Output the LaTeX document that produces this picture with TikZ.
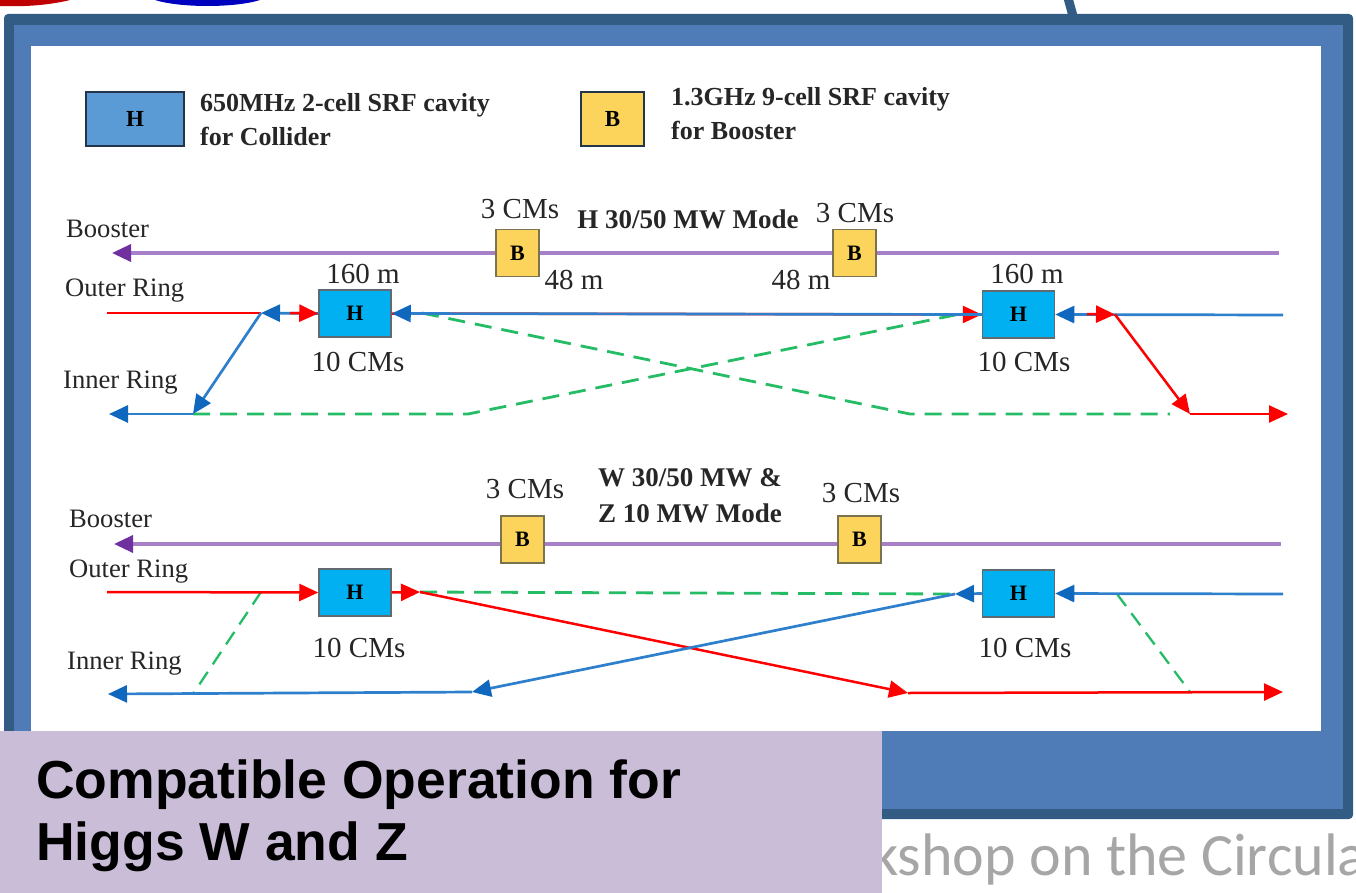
\documentclass[tikz,border=0pt]{standalone}
\usepackage{fontspec}
\setmainfont{Liberation Serif}
\newfontfamily\capfont{Liberation Sans}
\newfontfamily\footfont{Carlito}
\usetikzlibrary{arrows.meta}
\definecolor{frameD}{HTML}{335C85}
\definecolor{frameM}{HTML}{4F7CB6}
\definecolor{lav}{HTML}{CABDD8}
\definecolor{cavH}{HTML}{00B0F0}
\definecolor{cavL}{HTML}{5B9BD5}
\definecolor{cavB}{HTML}{FCD45C}
\definecolor{edgeG}{HTML}{5F6B70}
\definecolor{edgeK}{HTML}{7A7350}
\definecolor{edgeL}{HTML}{24344A}
\definecolor{purL}{HTML}{A880C8}
\definecolor{purD}{HTML}{7030A0}
\definecolor{bluL}{HTML}{2E80CC}
\definecolor{bluD}{HTML}{1068BE}
\definecolor{grn}{HTML}{25BC66}
\definecolor{txt}{HTML}{262626}
\tikzset{
  x=1pt,y=-1pt,
  lab/.style={inner sep=0pt,text=txt,font=\fontsize{26.6}{27}\selectfont,anchor=base west},
  big/.style={inner sep=0pt,text=txt,font=\fontsize{29}{29}\selectfont,anchor=base},
  bold/.style={inner sep=0pt,text=txt,font=\fontsize{26}{26}\selectfont\bfseries,anchor=base west},
  boldc/.style={inner sep=0pt,text=txt,font=\fontsize{27}{27}\selectfont\bfseries,anchor=base},
  hcav/.style={draw=edgeG,line width=1.5pt,fill=cavH,minimum width=72pt,minimum height=47pt,inner sep=0pt,font=\fontsize{22}{22}\selectfont\bfseries},
  bcav/.style={draw=edgeK,line width=1.5pt,fill=cavB,minimum width=43pt,minimum height=47pt,inner sep=0pt,font=\fontsize{22}{22}\selectfont\bfseries},
  hleg/.style={draw=edgeL,line width=2pt,fill=cavL,minimum width=98pt,minimum height=54pt,inner sep=0pt,font=\fontsize{23}{23}\selectfont\bfseries},
  bleg/.style={draw=edgeL,line width=2pt,fill=cavB,minimum width=63pt,minimum height=54pt,inner sep=0pt,font=\fontsize{23}{23}\selectfont\bfseries},
  tip/.style={-{Triangle[length=19pt,width=17pt]}},
  pur/.style={draw=purL,line width=3.4pt},
  pura/.style={pur,-{Triangle[length=19pt,width=17pt,color=purD]}},
  red2/.style={draw=red,line width=2.5pt},
  redA/.style={red2,tip,color=red},
  blu/.style={draw=bluL,line width=2.7pt},
  bluA/.style={blu,-{Triangle[length=19pt,width=17pt,color=bluD]}},
  grnd/.style={draw=grn,line width=2.8pt,dash pattern=on 17pt off 10pt},
  grns/.style={draw=grn,line width=2.3pt,dash pattern=on 15pt off 9pt},
}
\begin{document}
\begin{tikzpicture}
\useasboundingbox (0,0) rectangle (1356,893);
\clip (0,0) rectangle (1356,893);
\fill[white] (0,0) rectangle (1356,893);
% fragments at the top edge
\fill[red!75!black] (0,0) -- (70,0) .. controls (50,5) and (25,7) .. (0,6) -- cycle;
\fill[blue!75!black] (155,0) .. controls (180,8) and (235,8) .. (260,0) -- cycle;
\draw[frameD,line width=9pt] (1068,-2) -- (1073,16);
% grey footer text, running under the caption
\node[inner sep=0pt,anchor=base west,text=black!35,font=\footfont\fontsize{60}{60}\selectfont] (foot) at (871,875) {kshop on the Circula};
% frame
\fill[frameD,rounded corners=4pt] (4,14) rectangle (1353,819);
\fill[frameM] (14,25) rectangle (1343,809);
\fill[white] (31,46) rectangle (1321,731);
% legend
\node[hleg] (legH) at (135,119) {H};
\node[bleg] (legB) at (612.5,119) {B};
\node[bold] (leg1) at (200,112) {650MHz 2-cell SRF cavity};
\node[bold] (leg2) at (200,146) {for Collider};
\node[bold] (leg3) at (671,106) {1.3GHz 9-cell SRF cavity};
\node[bold] (leg4) at (671,140) {for Booster};
% upper diagram nodes
\node[bcav] (b1) at (517.5,253) {B};
\node[bcav] (b2) at (854.5,253) {B};
\node[hcav] (h1) at (355,313.5) {H};
\node[hcav] (h2) at (1018.5,314.5) {H};
\coordinate (ubE) at (1279,253);
\coordinate (ubW) at (112,253);
\coordinate (uoW) at (107,313);
\coordinate (uj1) at (261,313);
\coordinate (ur1) at (290,313);
\coordinate (uiW) at (109,414);
\coordinate (uj2) at (193,414);
\coordinate (ug1) at (468,414);
\coordinate (ug2) at (960,314);
\coordinate (ug3) at (422,313);
\coordinate (ug4) at (910,414);
\coordinate (ug5) at (1170,414);
\coordinate (uoE) at (1283,315);
\coordinate (ur2) at (1087,314);
\coordinate (uj3) at (1115,314.5);
\coordinate (uj4) at (1190,414);
\coordinate (urE) at (1288,414);
% upper connectors
\draw[pura] (b1) -- (ubW);
\draw[pur] (b1) -- (b2);
\draw[pur] (b2) -- (ubE);
\draw[grnd] (uj2) -- (ug1) -- (ug2);
\draw[grnd] (ug3) -- (ug4) -- (ug5);
\draw[red2] (uoW) -- (uj1);
\draw[bluA] (h1.west) -- (uj1);
\draw[redA] (ur1) -- (h1.west);
\draw[redA] (h1.east) -- (h2.west);
\draw[bluA] (h2.west) -- (h1.east);
\draw[bluA] (uoE) -- (h2.east);
\draw[redA] (ur2) -- (uj3);
\draw[redA] (uj3) -- (uj4);
\draw[redA] (uj4) -- (urE);
\draw[bluA] (uj1) -- (uj2);
\draw[bluA] (uj2) -- (uiW);
\node[bcav] at (b1) {B};
\node[bcav] at (b2) {B};
% upper labels
\node[lab] (t1) at (66,238) {Booster};
\node[lab] (t2) at (65,296) {Outer Ring};
\node[lab] (t3) at (63,388) {Inner Ring};
\node[big] (t4) at (520,219) {3 CMs};
\node[big] (t5) at (855,223) {3 CMs};
\node[boldc] (t6) at (688,229) {H 30/50 MW Mode};
\node[big] (t7) at (363,283) {160 m};
\node[big] (t8) at (1027,283) {160 m};
\node[big] (t9) at (574,289) {48 m};
\node[big] (t10) at (801,289) {48 m};
\node[big] (t11) at (358,371) {10 CMs};
\node[big] (t12) at (1024,371) {10 CMs};
% lower diagram nodes
\node[bcav] (b3) at (522.5,539.5) {B};
\node[bcav] (b4) at (859.5,539.5) {B};
\node[hcav] (h3) at (355,592.5) {H};
\node[hcav] (h4) at (1018.5,593.5) {H};
\coordinate (lbE) at (1281,544);
\coordinate (lbW) at (114,544);
\coordinate (loW) at (107,592);
\coordinate (lj1) at (261,592);
\coordinate (lj2) at (193,694);
\coordinate (lr1) at (420,592);
\coordinate (lr2) at (908,693);
\coordinate (lrE) at (1283,692);
\coordinate (lb1) at (955,594);
\coordinate (lb2) at (472,692);
\coordinate (liW) at (108,694);
\coordinate (loE) at (1283,594);
\coordinate (lj3) at (1117,594);
\coordinate (lj4) at (1190,692);
% lower connectors
\draw[pura] (b3 |- lbW) -- (lbW);
\draw[pur] (b3 |- lbW) -- (b4 |- lbE);
\draw[pur] (b4 |- lbE) -- (lbE);
\draw[grnd] (lr1) -- (lb1);
\draw[grns] (lj1) -- (lj2);
\draw[grns] (lj3) -- (lj4);
\draw[redA] (loW) -- (h3.west);
\draw[redA] (h3.east) -- (lr1);
\draw[redA] (lr1) -- (lr2);
\draw[redA] (lr2) -- (lrE);
\draw[bluA] (loE) -- (h4.east);
\draw[bluA] (h4.west) -- (lb1);
\draw[bluA] (lb1) -- (lb2);
\draw[bluA] (lb2) -- (liW);
\node[bcav] at (b3) {B};
\node[bcav] at (b4) {B};
% lower labels
\node[lab] (t13) at (69,527) {Booster};
\node[lab] (t14) at (69,577) {Outer Ring};
\node[lab] (t15) at (67,669) {Inner Ring};
\node[big] (t16) at (525,498) {3 CMs};
\node[big] (t17) at (861,502) {3 CMs};
\node[boldc] (t18) at (690,486) {W 30/50 MW \&};
\node[boldc] (t19) at (690,522) {Z 10 MW Mode};
\node[big] (t20) at (359,657) {10 CMs};
\node[big] (t21) at (1025,657) {10 CMs};
% caption panel
\fill[lav] (0,731) rectangle (882,893);
\node[inner sep=0pt,anchor=base west,text=black,font=\capfont\bfseries\fontsize{53.5}{53.5}\selectfont] (cap1) at (36,798) {Compatible Operation for};
\node[inner sep=0pt,anchor=base west,text=black,font=\capfont\bfseries\fontsize{53.5}{53.5}\selectfont] (cap2) at (36,860) {Higgs W and Z};
\end{tikzpicture}
\end{document}
